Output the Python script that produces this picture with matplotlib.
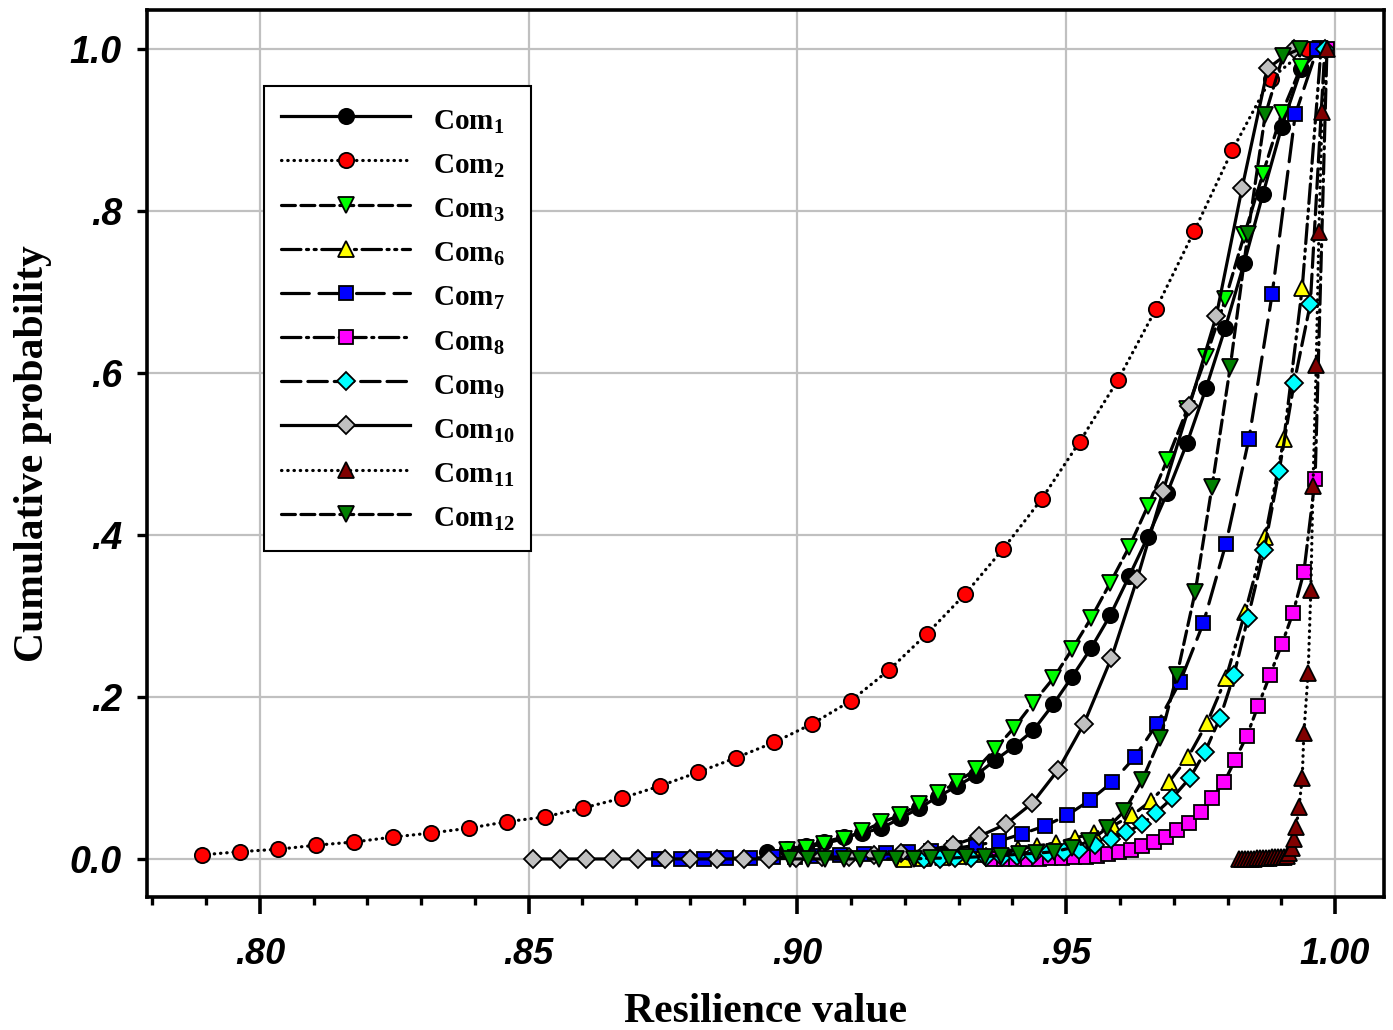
import matplotlib
matplotlib.use("Agg")
import matplotlib.pyplot as plt
from matplotlib.ticker import FixedLocator, MultipleLocator

plt.rcParams['mathtext.fontset'] = 'custom'
plt.rcParams['mathtext.rm'] = 'Liberation Serif:bold'
plt.rcParams['mathtext.it'] = 'Liberation Serif:bold'
plt.rcParams['mathtext.bf'] = 'Liberation Serif:bold'
plt.rcParams['lines.scale_dashes'] = False

# ---------------- data ----------------
com1_x = [0.8944, 0.8980, 0.9015, 0.9050, 0.9086, 0.9121, 0.9156, 0.9191, 0.9227, 0.9262,
          0.9297, 0.9333, 0.9368, 0.9403, 0.9439, 0.9476, 0.9511, 0.9546, 0.9582, 0.9617,
          0.9652, 0.9688, 0.9725, 0.9760, 0.9796, 0.9831, 0.9866, 0.9901, 0.9937, 0.9972]
com1_y = [0.008, 0.012, 0.016, 0.021, 0.027, 0.032, 0.038, 0.050, 0.063, 0.077,
          0.090, 0.104, 0.122, 0.139, 0.159, 0.191, 0.225, 0.260, 0.301, 0.349,
          0.398, 0.452, 0.514, 0.581, 0.656, 0.736, 0.821, 0.904, 0.975, 1.000]

com2_x = [0.7892, 0.7963, 0.8034, 0.8105, 0.8176, 0.8247, 0.8318, 0.8389, 0.8460, 0.8531,
          0.8602, 0.8673, 0.8744, 0.8815, 0.8886, 0.8957, 0.9028, 0.9099, 0.9170, 0.9241,
          0.9312, 0.9383, 0.9454, 0.9525, 0.9596, 0.9667, 0.9738, 0.9809, 0.9880, 0.9948]
com2_y = [0.005, 0.009, 0.012, 0.017, 0.021, 0.027, 0.032, 0.038, 0.046, 0.052,
          0.063, 0.075, 0.090, 0.107, 0.125, 0.144, 0.167, 0.195, 0.233, 0.278,
          0.327, 0.383, 0.444, 0.515, 0.591, 0.679, 0.775, 0.875, 0.963, 1.000]

com3_x = [0.8980, 0.9015, 0.9050, 0.9086, 0.9121, 0.9156, 0.9191, 0.9227, 0.9262, 0.9297,
          0.9333, 0.9368, 0.9403, 0.9439, 0.9476, 0.9511, 0.9546, 0.9582, 0.9617, 0.9652,
          0.9688, 0.9725, 0.9760, 0.9796, 0.9831, 0.9866, 0.9901, 0.9937, 0.9972]
com3_y = [0.011, 0.014, 0.019, 0.025, 0.034, 0.045, 0.054, 0.068, 0.081, 0.095,
          0.111, 0.136, 0.162, 0.193, 0.223, 0.259, 0.297, 0.341, 0.385, 0.436,
          0.493, 0.555, 0.620, 0.691, 0.770, 0.846, 0.921, 0.978, 1.000]

com6_x = [0.9199, 0.9234, 0.9270, 0.9305, 0.9340, 0.9375, 0.9411, 0.9446, 0.9481, 0.9517,
          0.9552, 0.9587, 0.9623, 0.9658, 0.9691, 0.9727, 0.9762, 0.9797, 0.9833, 0.9870,
          0.9905, 0.9939, 0.9974]
com6_y = [0.000, 0.001, 0.002, 0.004, 0.006, 0.009, 0.012, 0.016, 0.020, 0.026,
          0.032, 0.041, 0.054, 0.072, 0.095, 0.126, 0.168, 0.223, 0.305, 0.398,
          0.519, 0.705, 1.000]

com7_x = [0.8742, 0.8784, 0.8827, 0.8868, 0.8911, 0.8954, 0.8996, 0.9037, 0.9080, 0.9123,
          0.9165, 0.9206, 0.9249, 0.9292, 0.9333, 0.9375, 0.9418, 0.9461, 0.9502, 0.9545,
          0.9586, 0.9628, 0.9669, 0.9712, 0.9755, 0.9797, 0.9840, 0.9883, 0.9926, 0.9967]
com7_y = [0.000, 0.000, 0.000, 0.001, 0.001, 0.002, 0.003, 0.004, 0.005, 0.006,
          0.007, 0.008, 0.010, 0.013, 0.017, 0.022, 0.031, 0.041, 0.054, 0.073,
          0.095, 0.126, 0.167, 0.219, 0.291, 0.389, 0.519, 0.697, 0.919, 1.000]

com8_x = [0.9364, 0.9385, 0.9407, 0.9428, 0.9450, 0.9470, 0.9493, 0.9515, 0.9537, 0.9558,
          0.9578, 0.9599, 0.9621, 0.9641, 0.9664, 0.9686, 0.9706, 0.9729, 0.9751, 0.9771,
          0.9794, 0.9814, 0.9836, 0.9857, 0.9879, 0.9901, 0.9922, 0.9942, 0.9963, 0.9985]
com8_y = [0.000, 0.000, 0.000, 0.000, 0.000, 0.001, 0.001, 0.002, 0.003, 0.004,
          0.006, 0.009, 0.011, 0.016, 0.021, 0.027, 0.036, 0.044, 0.058, 0.075,
          0.095, 0.122, 0.152, 0.189, 0.227, 0.265, 0.304, 0.354, 0.469, 1.000]

com9_x = [0.9236, 0.9266, 0.9294, 0.9323, 0.9351, 0.9381, 0.9409, 0.9439, 0.9467, 0.9496,
          0.9524, 0.9554, 0.9584, 0.9612, 0.9641, 0.9667, 0.9697, 0.9730, 0.9758, 0.9786,
          0.9812, 0.9838, 0.9868, 0.9896, 0.9924, 0.9954, 0.9981]
com9_y = [0.000, 0.000, 0.001, 0.001, 0.002, 0.003, 0.004, 0.005, 0.007, 0.009,
          0.011, 0.017, 0.025, 0.033, 0.043, 0.057, 0.075, 0.100, 0.132, 0.174,
          0.227, 0.298, 0.381, 0.479, 0.588, 0.685, 1.000]

com10_x = [0.8509, 0.8558, 0.8606, 0.8656, 0.8704, 0.8753, 0.8801, 0.8851, 0.8900, 0.8948,
           0.8998, 0.9046, 0.9095, 0.9143, 0.9193, 0.9242, 0.9290, 0.9338, 0.9388, 0.9437,
           0.9485, 0.9533, 0.9584, 0.9632, 0.9680, 0.9729, 0.9779, 0.9827, 0.9875, 0.9924]
com10_y = [0.000, 0.000, 0.000, 0.000, 0.000, 0.000, 0.000, 0.000, 0.000, 0.000,
           0.001, 0.002, 0.003, 0.005, 0.007, 0.011, 0.017, 0.028, 0.043, 0.069,
           0.110, 0.167, 0.248, 0.346, 0.454, 0.559, 0.670, 0.828, 0.976, 1.000]

com11_x = [0.9822, 0.9827, 0.9833, 0.9838, 0.9844, 0.9849, 0.9855, 0.9861, 0.9866, 0.9872,
           0.9877, 0.9883, 0.9888, 0.9894, 0.9900, 0.9905, 0.9911, 0.9915, 0.9920, 0.9924,
           0.9928, 0.9933, 0.9939, 0.9942, 0.9950, 0.9955, 0.9959, 0.9965, 0.9970, 0.9976,
           0.9985]
com11_y = [0.000, 0.000, 0.000, 0.000, 0.000, 0.000, 0.001, 0.001, 0.001, 0.001,
           0.001, 0.002, 0.002, 0.002, 0.003, 0.003, 0.004, 0.007, 0.014, 0.025,
           0.040, 0.064, 0.100, 0.155, 0.230, 0.332, 0.460, 0.610, 0.774, 0.922,
           1.000]

com12_x = [0.8987, 0.9020, 0.9052, 0.9086, 0.9117, 0.9151, 0.9184, 0.9216, 0.9249, 0.9281,
           0.9314, 0.9348, 0.9379, 0.9413, 0.9444, 0.9478, 0.9511, 0.9543, 0.9576, 0.9608,
           0.9641, 0.9675, 0.9706, 0.9740, 0.9771, 0.9805, 0.9838, 0.9870, 0.9903, 0.9935]
com12_y = [0.000, 0.000, 0.000, 0.000, 0.000, 0.000, 0.000, 0.000, 0.001, 0.001,
           0.002, 0.003, 0.004, 0.006, 0.007, 0.009, 0.014, 0.022, 0.038, 0.059,
           0.097, 0.149, 0.227, 0.330, 0.459, 0.607, 0.772, 0.918, 0.991, 1.000]

labels = ['Com$_{1}$', 'Com$_{2}$', 'Com$_{3}$', 'Com$_{6}$', 'Com$_{7}$',
          'Com$_{8}$', 'Com$_{9}$', 'Com$_{10}$', 'Com$_{11}$', 'Com$_{12}$']
x_ticks = [0.80, 0.85, 0.90, 0.95, 1.00]
x_tick_labels = ['.80', '.85', '.90', '.95', '1.00']
y_ticks = [0.0, 0.2, 0.4, 0.6, 0.8, 1.0]
y_tick_labels = ['0.0', '.2', '.4', '.6', '.8', '1.0']

# ---------------- styles ----------------
dot = (0, (0.3, 4.2))
styles = [
    dict(ls='-', marker='o', mfc='black', ms=11),
    dict(ls=dot, marker='o', mfc='#FF0000', ms=11),
    dict(ls=(0, (10, 4)), marker='v', mfc='#00FF00', ms=11),
    dict(ls=(0, (14, 4, 1.5, 4, 1.5, 4)), marker='^', mfc='#FFFF00', ms=11),
    dict(ls=(0, (20, 7)), marker='s', mfc='#0000FF', ms=10),
    dict(ls=(0, (14, 4, 1.5, 4)), marker='s', mfc='#FF00FF', ms=10),
    dict(ls=(0, (14, 5)), marker='D', mfc='#00FFFF', ms=9),
    dict(ls='-', marker='D', mfc='#C0C0C0', ms=9),
    dict(ls=dot, marker='^', mfc='#800000', ms=11),
    dict(ls=(0, (10, 4)), marker='v', mfc='#008000', ms=11),
]
series = [(com1_x, com1_y), (com2_x, com2_y), (com3_x, com3_y), (com6_x, com6_y),
          (com7_x, com7_y), (com8_x, com8_y), (com9_x, com9_y), (com10_x, com10_y),
          (com11_x, com11_y), (com12_x, com12_y)]

fig = plt.figure(figsize=(13.93, 10.30), dpi=100)
ax = fig.add_axes([0.1055, 0.1291, 0.888, 0.8612])

for (xs, ys), st, lab in zip(series, styles, labels):
    ax.plot(xs, ys, color='black', lw=2.3, linestyle=st['ls'],
            dash_capstyle='round', marker=st['marker'], markersize=st['ms'],
            markerfacecolor=st['mfc'], markeredgecolor='black', markeredgewidth=1.3,
            label=lab)

ax.set_xlim(0.779, 1.0091)
ax.set_ylim(-0.047, 1.048)
ax.xaxis.set_major_locator(FixedLocator(x_ticks))
ax.set_xticklabels(x_tick_labels)
ax.xaxis.set_minor_locator(MultipleLocator(0.01))
ax.yaxis.set_major_locator(FixedLocator(y_ticks))
ax.set_yticklabels(y_tick_labels)

ax.grid(True, which='major', color='#C0C0C0', lw=1.6)
ax.set_axisbelow(True)

for sp in ax.spines.values():
    sp.set_linewidth(2.6)

ax.tick_params(axis='x', which='major', direction='out', length=12, width=2.6, pad=17,
               top=False)
ax.tick_params(axis='x', which='minor', direction='out', length=6, width=2.4, top=False)
ax.tick_params(axis='y', which='major', direction='out', length=7, width=2.4, pad=11,
               right=False)
for t in ax.get_xticklabels():
    t.set_fontfamily('Liberation Sans')
    t.set_fontweight('bold')
    t.set_fontstyle('italic')
    t.set_fontsize(26)
for t in ax.get_yticklabels():
    t.set_fontfamily('Liberation Sans')
    t.set_fontweight('bold')
    t.set_fontstyle('italic')
    t.set_fontsize(27)

ax.set_xlabel('Resilience value', fontfamily='Liberation Serif', fontweight='bold',
              fontsize=30, labelpad=15)
ax.set_ylabel('Cumulative probability', fontfamily='Liberation Serif', fontweight='bold',
              fontsize=30, labelpad=13)

leg = ax.legend(loc='upper left', bbox_to_anchor=(0.0946, 0.914), borderaxespad=0,
                prop={'family': 'Liberation Serif', 'weight': 'bold', 'size': 21},
                handlelength=4.45, handleheight=1.4, labelspacing=0.36,
                handletextpad=0.76, borderpad=0.57,
                fancybox=False, framealpha=1, edgecolor='black')
leg.get_frame().set_linewidth(1.5)

fig.savefig('out.png', dpi=100)
